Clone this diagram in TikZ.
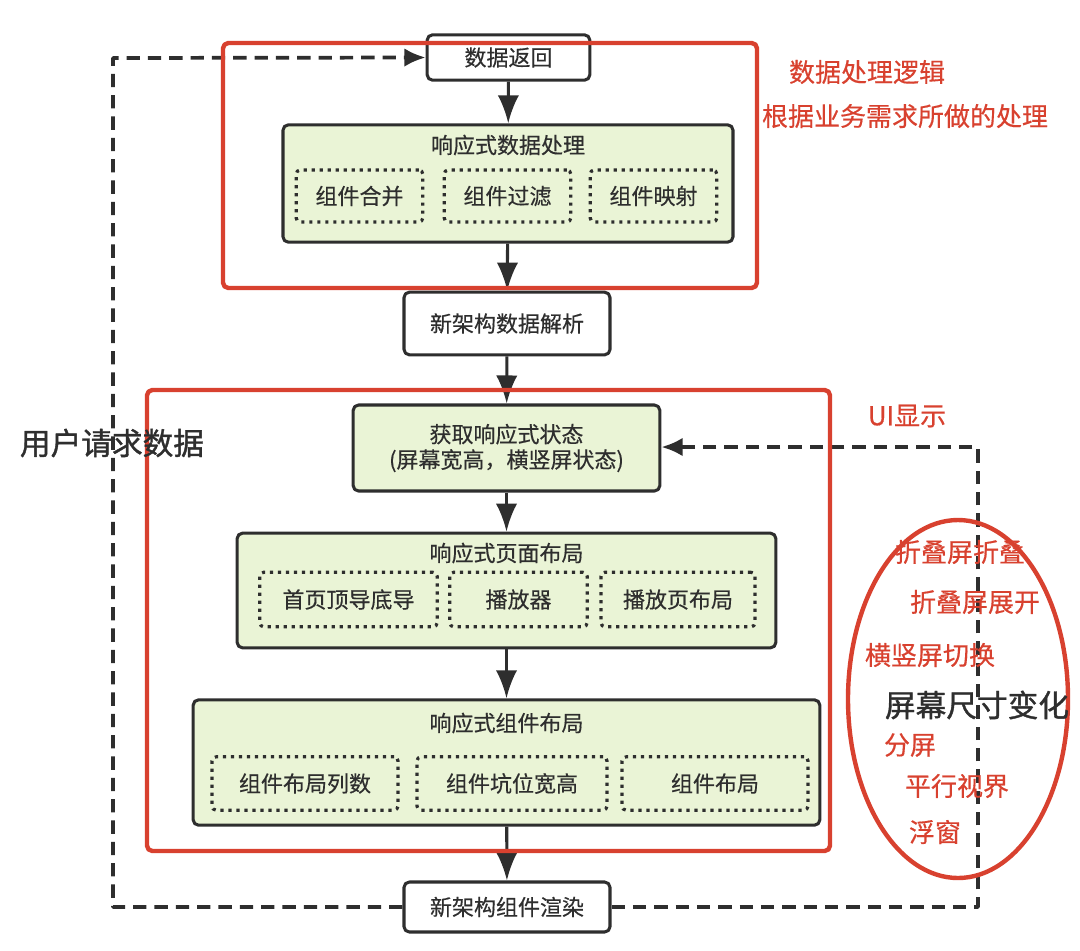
\documentclass[tikz,border=0pt]{standalone}
\usepackage{fontspec}
\setmainfont{Noto Sans CJK SC}
\newfontfamily\bodyfont[FakeBold=0.4]{Noto Sans CJK SC}
\newfontfamily\heavyfont[FakeBold=1.2]{Noto Sans CJK SC}
\usepackage{xcolor}
\usepackage{tikz}
\usetikzlibrary{arrows.meta,positioning}
\definecolor{ink}{HTML}{2E2E2E}
\definecolor{leaf}{HTML}{EAF4D6}
\definecolor{mark}{HTML}{D8412F}
\tikzset{
  FlowBox/.style={
    draw=ink, line width=2.3pt, fill=white,
    rounded corners=4pt, text=ink,
    font=\bodyfont\fontsize{16.5}{19}\selectfont,
    align=center, inner sep=0pt
  },
  GroupBox/.style={FlowBox, fill=leaf},
  SubBox/.style={
    draw=ink, line width=2.4pt, dash pattern=on 2.4pt off 3.6pt,
    rounded corners=3pt, text=ink,
    font=\bodyfont\fontsize{16.5}{19}\selectfont, inner sep=0pt
  },
  GroupTitle/.style={text=ink, font=\bodyfont\fontsize{16.5}{19}\selectfont},
  RedFrame/.style={draw=mark, line width=3.3pt, rounded corners=4pt},
  NoteText/.style={text=mark, font=\bodyfont\fontsize{19.5}{22}\selectfont},
  BigText/.style={text=ink, font=\heavyfont\fontsize{23}{26}\selectfont},
  FlowArrow/.style={draw=ink, line width=2.3pt, -{Latex[length=21pt,width=16pt]}},
  LoopLine/.style={draw=ink, line width=2.8pt, dash pattern=on 10pt off 6pt,
    -{Latex[length=16pt,width=14pt]}}
}

\begin{document}
\begin{tikzpicture}[x=0.75pt, y=-0.75pt, line cap=butt, line join=round]
  \useasboundingbox (0,0) rectangle (1080,950);

  % main column
  \node[FlowBox, minimum width=122pt, minimum height=34pt] (ret) at (508.5,57.5) {数据返回};

  \node[GroupBox, minimum width=337.5pt, minimum height=88pt] (proc) at (508,183.5) {};
  \node[GroupTitle] (procT) at (508,145) {响应式数据处理};
  \node[SubBox, minimum width=95pt, minimum height=39pt] (merge) at (359.5,196) {组件合并};
  \node[SubBox, minimum width=95pt, minimum height=39pt] (filter) at (507.5,196) {组件过滤};
  \node[SubBox, minimum width=95pt, minimum height=39pt] (map) at (653.5,196) {组件映射};

  \node[FlowBox, minimum width=154.5pt, minimum height=47pt] (parse) at (507,323.5) {新架构数据解析};

  \node[GroupBox, minimum width=230pt, minimum height=64.5pt] (state) at (506.5,448)
    {获取响应式状态\\(屏幕宽高，横竖屏状态)};

  \node[GroupBox, minimum width=404pt, minimum height=86pt] (page) at (506.5,590.5) {};
  \node[GroupTitle] (pageT) at (506.5,553) {响应式页面布局};
  \node[SubBox, minimum width=133pt, minimum height=41pt] (home) at (348.5,599.5) {首页顶导底导};
  \node[SubBox, minimum width=103pt, minimum height=41pt] (player) at (518.5,599.5) {播放器};
  \node[SubBox, minimum width=115.5pt, minimum height=41pt] (playpage) at (678,599.5) {播放页布局};

  \node[GroupBox, minimum width=470pt, minimum height=94pt] (comp) at (506.5,762.5) {};
  \node[GroupTitle] (compT) at (506.5,723) {响应式组件布局};
  \node[SubBox, minimum width=139.5pt, minimum height=40pt] (cols) at (305,783.5) {组件布局列数};
  \node[SubBox, minimum width=142.5pt, minimum height=40pt] (slot) at (512,783.5) {组件坑位宽高};
  \node[SubBox, minimum width=139.5pt, minimum height=40pt] (lay) at (715,783.5) {组件布局};

  \node[FlowBox, minimum width=154.5pt, minimum height=37.5pt] (render) at (507,907) {新架构组件渲染};

  % arrows
  \draw[FlowArrow] (ret) -- (proc);
  \draw[FlowArrow] (proc) -- (parse);
  \draw[FlowArrow] (parse) -- (state);
  \draw[FlowArrow] (state) -- (page);
  \draw[FlowArrow] (page) -- (comp);
  \draw[FlowArrow] (comp) -- (render);

  % loops
  \coordinate (lb) at (113,907);
  \coordinate (lt) at (113,58);
  \coordinate (rb) at (978,907);
  \coordinate (rt) at (978,447);
  \draw[LoopLine] (render.west) -- (lb) -- (lt) -- (ret.west);
  \draw[LoopLine] (render.east) -- (rb) -- (rt) -- (state.east |- rt);

  % red marks
  \draw[RedFrame] (223,43) rectangle (757,288);
  \draw[RedFrame] (147,390) rectangle (830,851);
  \draw[draw=mark, line width=3.3pt] (958,699) ellipse [x radius=110, y radius=179];

  % notes
  \node[NoteText] (logic) at (867,72) {数据处理逻辑};
  \node[NoteText] (biz) at (905,116) {根据业务需求所做的处理};
  \node[BigText] (user) at (112,443) {用户请求数据};
  \node[NoteText] (ui) at (907,416) {UI显示};
  \node[NoteText] (fold) at (960,552) {折叠屏折叠};
  \node[NoteText] (unfold) at (975,602) {折叠屏展开};
  \node[NoteText] (rotate) at (930,655) {横竖屏切换};
  \node[BigText] (size) at (977,705) {屏幕尺寸变化};
  \node[NoteText] (split) at (910,745) {分屏};
  \node[NoteText] (para) at (957,786) {平行视界};
  \node[NoteText] (float) at (935,832) {浮窗};
\end{tikzpicture}
\end{document}
